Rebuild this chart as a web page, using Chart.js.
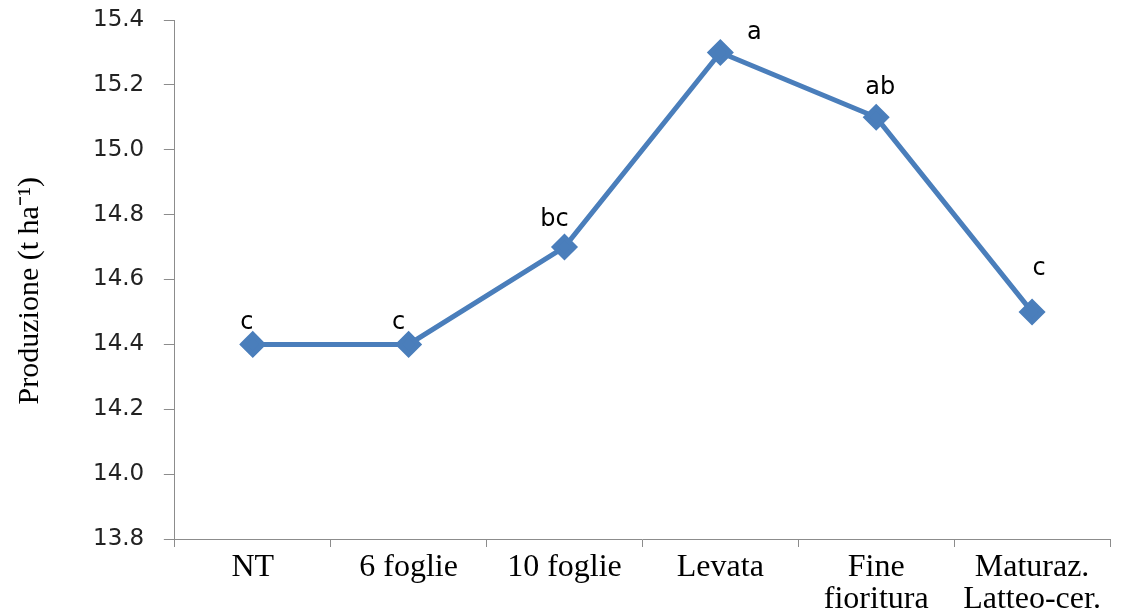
<!DOCTYPE html>
<html>
<head>
<meta charset="utf-8">
<script src="https://cdn.jsdelivr.net/npm/chart.js@4"></script>
<style>
    html, body { margin: 0; padding: 0; background: #fff; }
    #wrap { width: 1130px; height: 611px; }
</style>
</head>
<body>
<div id="wrap"><canvas id="chart"></canvas></div>
<script>
const categories = ["NT", "6 foglie", "10 foglie", "Levata", ["Fine", "fioritura"], ["Maturaz.", "Latteo-cer."]];
const production = [14.4, 14.4, 14.7, 15.3, 15.1, 14.5];
const letters = ["c", "c", "bc", "a", "ab", "c"];
const yTicks = { min: 13.8, max: 15.4, step: 0.2 };

// lettere sopra i punti
const letterPlugin = {
    id: "letters",
    afterDatasetsDraw(chart) {
        const ctx = chart.ctx;
        const meta = chart.getDatasetMeta(0);
        const shift = [[-6, -22], [-10, -22], [-10, -27], [34, -20], [4, -30], [7, -43]];
        ctx.save();
        ctx.font = "24px 'DejaVu Sans'";
        ctx.fillStyle = "#000";
        ctx.textAlign = "center";
        ctx.textBaseline = "middle";
        meta.data.forEach(function (pt, i) {
            ctx.fillText(letters[i], pt.x + shift[i][0], pt.y + shift[i][1]);
        });
        ctx.restore();
    }
};

new Chart(document.getElementById("chart"), {
    type: "line",
    data: {
        labels: categories,
        datasets: [{
            data: production,
            borderColor: "#4a7ebb",
            backgroundColor: "#4a7ebb",
            borderWidth: 5,
            pointStyle: "rectRot",
            pointRadius: 10,
            pointHoverRadius: 10,
            tension: 0
        }]
    },
    options: {
        responsive: true,
        maintainAspectRatio: false,
        animation: false,
        layout: { padding: { top: 20, right: 20, left: 12, bottom: 0 } },
        plugins: {
            legend: { display: false },
            tooltip: { enabled: false }
        },
        scales: {
            x: {
                offset: true,
                grid: { offset: true, drawOnChartArea: false, tickLength: 8, color: "#8c8c8c" },
                border: { color: "#8c8c8c" },
                ticks: {
                    maxRotation: 0,
                    autoSkip: false,
                    color: "#000",
                    padding: 5,
                    font: { family: "'Liberation Serif'", size: 32, lineHeight: 1.0 }
                },
                // asse più basso: la seconda riga arriva al bordo
                afterFit: function (scale) { scale.height = 72; }
            },
            y: {
                min: yTicks.min,
                max: yTicks.max,
                grid: { drawOnChartArea: false, tickLength: 11, color: "#8c8c8c" },
                border: { color: "#8c8c8c" },
                ticks: {
                    stepSize: yTicks.step,
                    color: "#222",
                    padding: 5,
                    font: { family: "'DejaVu Sans'", size: 23 },
                    // spazi finali per staccare le etichette dall'asse
                    callback: function (v) { return v.toFixed(1) + "  "; }
                },
                title: {
                    display: true,
                    text: "Produzione (t ha\u207B\u00B9)   ",
                    color: "#000",
                    font: { family: "'Liberation Serif'", size: 30 },
                    padding: { top: 0, bottom: 40 }
                }
            }
        }
    },
    plugins: [letterPlugin]
});
</script>
</body>
</html>
